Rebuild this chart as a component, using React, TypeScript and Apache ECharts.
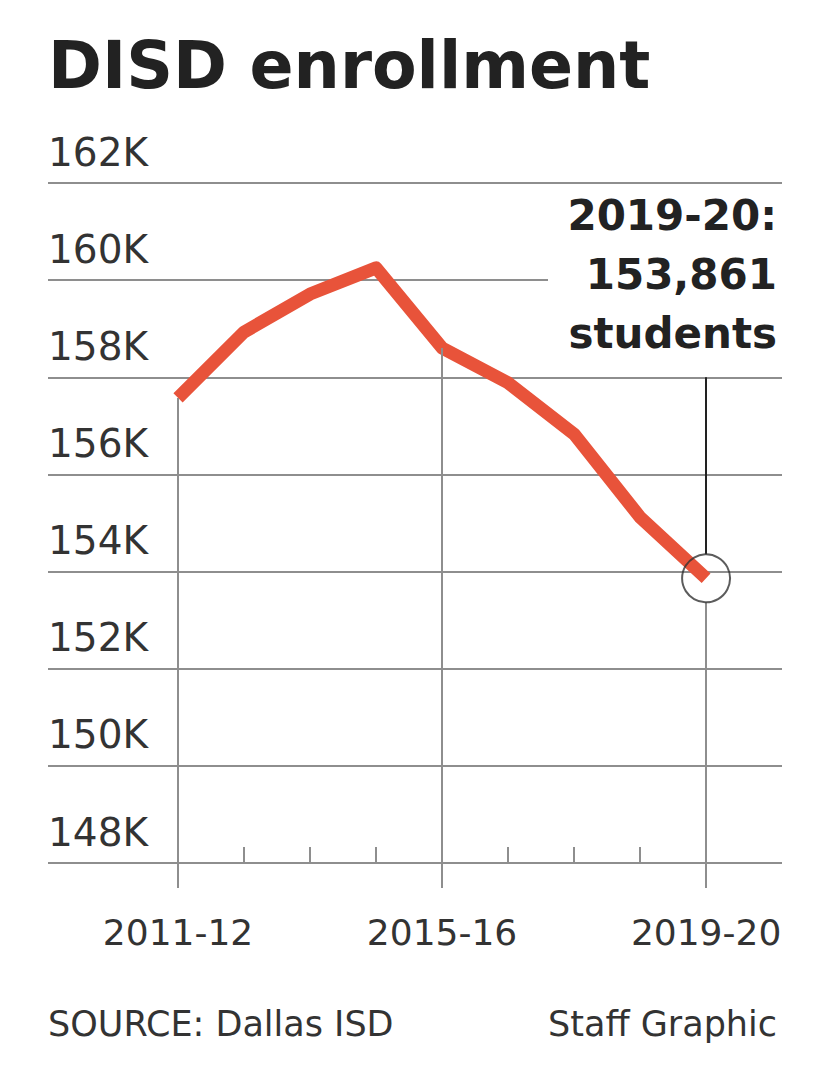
import React, { useEffect, useRef } from "react";
import * as echarts from "echarts";

const categories = ["2011-12", "2012-13", "2013-14", "2014-15", "2015-16", "2016-17", "2017-18", "2018-19", "2019-20"];
const enrollment = [157575, 158932, 159713, 160253, 158604, 157886, 156832, 155119, 153861];
const yTicks = [148000, 150000, 152000, 154000, 156000, 158000, 160000, 162000];
const labeledIdx = [0, 4, 8];
const minorIdx = [1, 2, 3, 5, 6, 7];
const titleText = "DISD enrollment";
const calloutLines = ["2019-20:", "153,861", "students"];
const sourceText = "SOURCE: Dallas ISD";
const creditText = "Staff Graphic";

const FONT = "'DejaVu Sans', sans-serif";
const GRID = "#8e8e8e";
const RED = "#E8533A";

export default function App() {
  const ref = useRef<HTMLDivElement>(null);
  useEffect(() => {
    if (!ref.current) return;
    const chart = echarts.init(ref.current, null, { renderer: "svg" });
    const yMin = yTicks[0];
    const yMax = yTicks[yTicks.length - 1];
    const gridTop = 183;
    const gridBottom = 223;
    const gridH = 1086 - gridTop - gridBottom;
    const circleR = 24;
    const rVal = (circleR * (yMax - yMin)) / gridH;
    const last = enrollment.length - 1;

    const dropLines = labeledIdx.map((i) => {
      const top = i === last ? enrollment[i] - rVal : enrollment[i];
      return [{ coord: [i, yMin] }, { coord: [i, top] }];
    });

    chart.setOption({
      animation: false,
      grid: { left: 48, right: 48, top: gridTop, bottom: gridBottom, containLabel: false },
      xAxis: [
        {
          type: "value",
          min: -1.97,
          max: 9.15,
          axisLine: { show: false },
          splitLine: { show: false },
          axisTick: {
            show: true,
            customValues: labeledIdx,
            length: 25,
            lineStyle: { color: GRID, width: 2 },
          },
          axisLabel: {
            customValues: labeledIdx,
            formatter: (v: number) => categories[Math.round(v)] ?? "",
            fontFamily: FONT,
            fontSize: 36,
            color: "#333",
            margin: 69,
            verticalAlign: "middle",
          },
        },
        {
          type: "value",
          position: "bottom",
          min: -1.97,
          max: 9.15,
          axisLine: { show: false },
          splitLine: { show: false },
          axisTick: {
            show: true,
            inside: true,
            customValues: minorIdx,
            length: 16,
            lineStyle: { color: GRID, width: 2 },
          },
          axisLabel: { show: false },
        },
      ],
      yAxis: {
        type: "value",
        min: yMin,
        max: yMax,
        interval: 2000,
        axisLine: { show: false },
        axisTick: { show: false },
        splitLine: { show: true, lineStyle: { color: GRID, width: 2 } },
        axisLabel: {
          inside: true,
          margin: 0,
          formatter: (v: number) => `${Math.round(v / 1000)}K`,
          fontFamily: FONT,
          fontSize: 39,
          color: "#333",
          verticalAlign: "bottom",
          lineHeight: 62,
        },
      },
      series: [
        {
          type: "line",
          data: [],
          z: 1,
          silent: true,
          markLine: {
            silent: true,
            symbol: ["none", "none"],
            label: { show: false },
            lineStyle: { color: GRID, width: 2, type: "solid" },
            data: dropLines,
          },
        },
        {
          type: "line",
          data: [],
          z: 1,
          silent: true,
          markLine: {
            silent: true,
            symbol: ["none", "none"],
            label: { show: false },
            lineStyle: { color: "#222", width: 2, type: "solid" },
            data: [[{ coord: [last, 158000] }, { coord: [last, enrollment[last] + rVal] }]],
          },
        },
        {
          type: "line",
          z: 3,
          data: enrollment.map((v, i) => [i, v]),
          showSymbol: false,
          symbol: "none",
          lineStyle: { color: RED, width: 13, join: "round", cap: "butt" },
        },
        {
          type: "scatter",
          z: 5,
          data: [[last, enrollment[last]]],
          symbol: "circle",
          symbolSize: circleR * 2,
          itemStyle: { color: "rgba(0,0,0,0)", borderColor: "#333", borderWidth: 2 },
        },
      ],
      graphic: [
        {
          type: "text",
          left: 48,
          top: 33,
          z: 100,
          style: { text: titleText, fontFamily: FONT, fontWeight: "bold", fontSize: 65, fill: "#222" },
        },
        {
          type: "rect",
          z: 90,
          shape: { x: 548, y: 190, width: 240, height: 175 },
          style: { fill: "#fff" },
        },
        ...calloutLines.map((t, k) => ({
          type: "text",
          z: 100,
          x: 777,
          y: 215 + k * 59,
          style: {
            text: t,
            fontFamily: FONT,
            fontWeight: "bold",
            fontSize: 42,
            fill: "#222",
            align: "right",
            verticalAlign: "middle",
          },
        })),
        {
          type: "text",
          z: 100,
          x: 48,
          y: 1024,
          style: { text: sourceText, fontFamily: FONT, fontSize: 35, fill: "#333", align: "left", verticalAlign: "middle" },
        },
        {
          type: "text",
          z: 100,
          x: 777,
          y: 1024,
          style: { text: creditText, fontFamily: FONT, fontSize: 35, fill: "#333", align: "right", verticalAlign: "middle" },
        },
      ],
    });
    return () => chart.dispose();
  }, []);
  return (
    <div
      ref={ref}
      style={{ position: "fixed", left: 0, top: 0, width: 830, height: 1086, background: "#fff" }}
    />
  );
}
